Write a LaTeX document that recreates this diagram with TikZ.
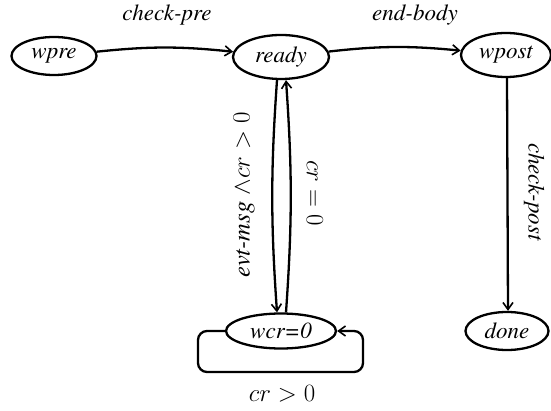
\documentclass[tikz,border=0pt]{standalone}
\usepackage[T1]{fontenc}
\usepackage{times}
\usetikzlibrary{arrows.meta,shapes.geometric}
\begin{document}
\begin{tikzpicture}[x=1pt,y=-1pt,
  state/.style={ellipse,draw,line width=2.3pt,inner sep=0pt,font=\fontsize{23}{26}\selectfont\itshape},
  tr/.style={line width=2.3pt,-{Straight Barb[length=7pt,width=10pt,line width=1.6pt]}},
  lbl/.style={font=\fontsize{23}{26}\selectfont\itshape,inner sep=0pt},
  mlbl/.style={font=\fontsize{24.5}{28}\selectfont,inner sep=0pt}]
\useasboundingbox (0,0) rectangle (551,411);
\node[state,minimum width=85,minimum height=38] (wpre) at (54,56) {wpre};
\node[state,minimum width=96,minimum height=44] (ready) at (281,57) {ready};
\node[state,minimum width=90,minimum height=44] (wpost) at (506,55) {wpost};
\node[state,minimum width=83,minimum height=38] (done) at (507,331) {done};
\node[state,minimum width=110,minimum height=35] (wcr) at (281,331) {wcr=0};
\draw[tr] (wpre) to[bend left=6] (ready);
\draw[tr] (ready) to[bend left=6] (wpost);
\draw[tr] ([xshift=1]wpost.south) -- ([xshift=1]done.north);
\draw[tr] ([xshift=-4]ready.south) to[bend right=4] ([xshift=-4]wcr.north);
\draw[tr] ([xshift=5]wcr.north) to[bend right=4] ([xshift=5]ready.south);
\coordinate (l1) at (198,331);
\coordinate (l2) at (198,372);
\coordinate (l3) at (363,372);
\coordinate (l4) at (363,331);
\draw[tr,rounded corners=9] (wcr.west) -- (l1) -- (l2) -- (l3) -- (l4) -- (wcr.east);
\node[lbl] (lcp) at (167,15) {check-pre};
\node[lbl] (leb) at (415,15) {end-body};
\node[lbl,rotate=-90] (lck) at (534,192) {check-post};
\node[mlbl,rotate=90] (lev) at (244,195) {\textit{evt-msg} $\wedge cr > 0$};
\node[mlbl,rotate=-90] (lc0) at (315,193) {$cr = 0$};
\node[mlbl] (lgt) at (282,394) {$cr > 0$};
\end{tikzpicture}
\end{document}
